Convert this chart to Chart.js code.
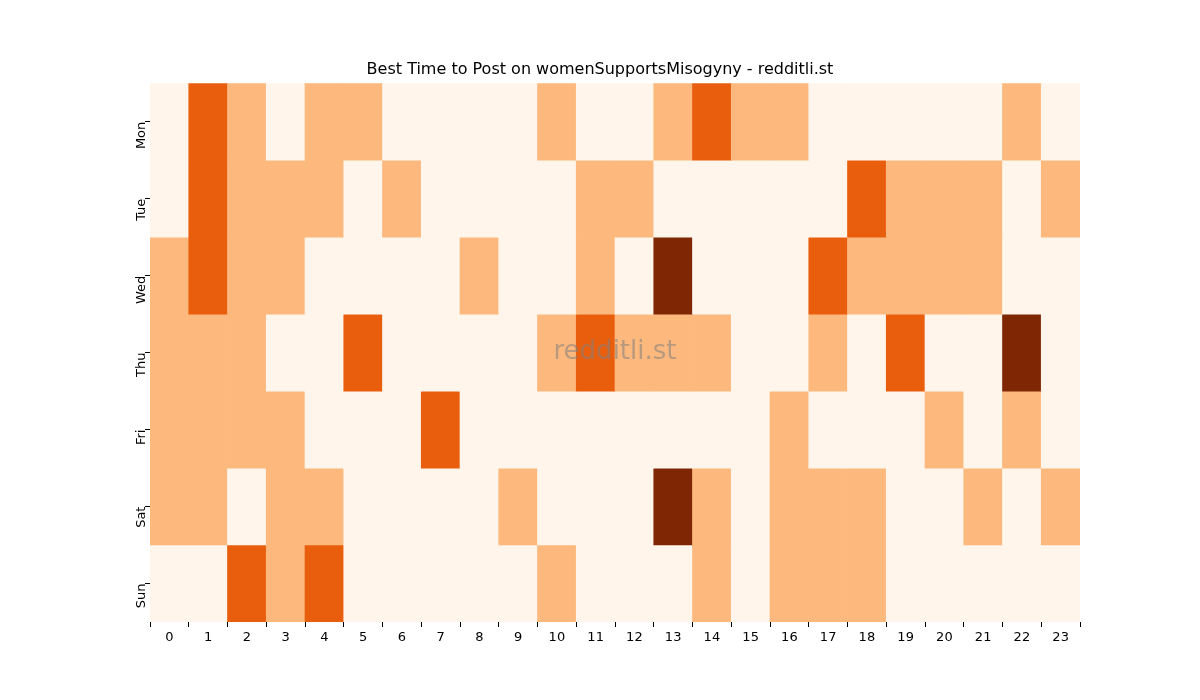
<!DOCTYPE html>
<html><head><meta charset="utf-8">
<script src="https://cdn.jsdelivr.net/npm/chart.js@4"></script>
<style>html,body{margin:0;padding:0;background:#fff}#w{width:1200px;height:700px}</style>
</head><body><div id="w"><canvas id="c"></canvas></div>
<script>
const hours = ["0","1","2","3","4","5","6","7","8","9","10","11","12","13","14","15","16","17","18","19","20","21","22","23"];
const days = ["Mon","Tue","Wed","Thu","Fri","Sat","Sun"];
const mon = [0,2,1,0,1,1,0,0,0,0,1,0,0,1,2,1,1,0,0,0,0,0,1,0];
const tue = [0,2,1,1,1,0,1,0,0,0,0,1,1,0,0,0,0,0,2,1,1,1,0,1];
const wed = [1,2,1,1,0,0,0,0,1,0,0,1,0,3,0,0,0,2,1,1,1,1,0,0];
const thu = [1,1,1,0,0,2,0,0,0,0,1,2,1,1,1,0,0,1,0,2,0,0,3,0];
const fri = [1,1,1,1,0,0,0,2,0,0,0,0,0,0,0,0,1,0,0,0,1,0,1,0];
const sat = [1,1,0,1,1,0,0,0,0,1,0,0,0,3,1,0,1,1,1,0,0,1,0,1];
const sun = [0,0,2,1,2,0,0,0,0,0,1,0,0,0,1,0,1,1,1,0,0,0,0,0];
const rows = [mon,tue,wed,thu,fri,sat,sun];
const palette = ["#fff5eb","#fdb97d","#e95e0d","#7f2704"];

const datasets = rows.map((r,i)=>({
  label: days[i],
  data: r.map(()=>[i,i+1]),
  backgroundColor: r.map(v=>palette[v]),
  borderWidth:0,
  barPercentage:1, categoryPercentage:1, grouped:false
}));

const watermark = {
  id:'wm',
  afterDatasetsDraw(chart){
    const a=chart.chartArea, ctx=chart.ctx;
    ctx.save();
    ctx.font='26px "DejaVu Sans"';
    ctx.fillStyle='rgba(128,128,128,0.55)';
    ctx.textAlign='center'; ctx.textBaseline='middle';
    ctx.fillText('redditli.st',(a.left+a.right)/2,(a.top+a.bottom)/2);
    ctx.restore();
  }
};

new Chart(document.getElementById('c'),{
  type:'bar',
  data:{labels:hours,datasets},
  plugins:[watermark],
  options:{
    responsive:true,maintainAspectRatio:false,animation:false,
    layout:{padding:{left:120,right:120,top:10,bottom:53}},
    plugins:{
      legend:{display:false},tooltip:{enabled:false},
      title:{display:true,text:'Best Time to Post on womenSupportsMisogyny - redditli.st',
        color:'#000',font:{family:'DejaVu Sans',size:16,weight:'normal'},padding:{top:50,bottom:4}}
    },
    scales:{
      x:{
        grid:{display:true,drawOnChartArea:false,tickLength:5,color:'#000'},
        border:{display:false},
        ticks:{color:'#000',font:{family:'DejaVu Sans',size:13},maxRotation:0,minRotation:0},
        afterFit(s){s.height=25;}
      },
      y:{
        type:'linear',min:0,max:7,reverse:true,
        afterBuildTicks(s){s.ticks=days.map((d,i)=>({value:i+0.5}));},
        grid:{display:true,drawOnChartArea:false,tickLength:5,color:'#000'},
        border:{display:false},
        ticks:{color:'#000',font:{family:'DejaVu Sans',size:13},minRotation:90,maxRotation:90,
          callback:(v)=>days[Math.floor(v)]},
        afterFit(s){s.width=30;}
      }
    }
  }
});
</script></body></html>
